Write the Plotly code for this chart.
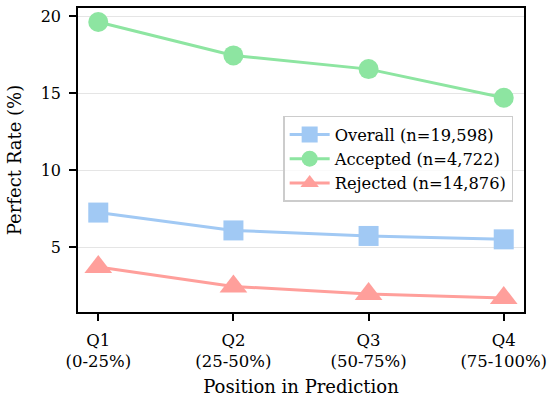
import plotly.graph_objects as go

categories = ["Q1<br>(0-25%)", "Q2<br>(25-50%)", "Q3<br>(50-75%)", "Q4<br>(75-100%)"]
overall = [7.26, 6.10, 5.74, 5.52]
accepted = [19.64, 17.47, 16.58, 14.72]
rejected = [3.72, 2.46, 1.97, 1.71]
series_names = ["Overall (n=19,598)", "Accepted (n=4,722)", "Rejected (n=14,876)"]
y_ticks = [5, 10, 15, 20]

FONT = "DejaVu Serif"
x = list(range(len(categories)))

fig = go.Figure()
specs = [
    (overall, series_names[0], "#a1c9f4", "square", 20),
    (accepted, series_names[1], "#8de5a1", "circle", 20),
    (rejected, series_names[2], "#ff9f9b", "triangle-up", 24),
]
for vals, name, color, sym, size in specs:
    fig.add_trace(go.Scatter(
        x=x, y=vals, name=name, mode="lines+markers",
        line=dict(color=color, width=3),
        marker=dict(symbol=sym, size=size, color=color, line=dict(width=0)),
    ))

fig.update_layout(
    width=553, height=400,
    margin=dict(l=78, r=21, t=6, b=85),
    plot_bgcolor="white", paper_bgcolor="white",
    font=dict(family=FONT, size=17, color="black"),
    showlegend=True,
    legend=dict(
        x=0.46, y=0.645, xanchor="left", yanchor="top",
        bgcolor="rgba(255,255,255,0.8)", bordercolor="#cccccc", borderwidth=1.5,
        font=dict(family=FONT, size=16.3), tracegroupgap=0,
        itemwidth=40,
    ),
)
fig.update_xaxes(
    range=[-0.15, 3.15], tickmode="array", tickvals=x, ticktext=categories,
    showgrid=False, zeroline=False,
    showline=True, mirror=True, linecolor="black", linewidth=1.5,
    ticks="outside", ticklen=7, tickwidth=1.5, tickcolor="black",
    ticklabelstandoff=5, ticklabeloverflow="allow",
    tickfont=dict(family=FONT, size=16.5),
    title=dict(text="Position in Prediction", font=dict(family=FONT, size=18), standoff=10),
)
fig.update_yaxes(
    range=[0.8, 20.55], tickmode="array", tickvals=y_ticks,
    showgrid=True, gridcolor="#e5e5e5", gridwidth=1, zeroline=False,
    showline=True, mirror=True, linecolor="black", linewidth=1.5,
    ticks="outside", ticklen=7, tickwidth=1.5, tickcolor="black",
    ticklabelstandoff=5,
    tickfont=dict(family=FONT, size=16),
    title=dict(text="Perfect Rate (%)", font=dict(family=FONT, size=18), standoff=14),
)
fig.write_html("out.html", config={"displayModeBar": False},
               post_script="document.body.style.margin='0';document.body.style.padding='0';")
